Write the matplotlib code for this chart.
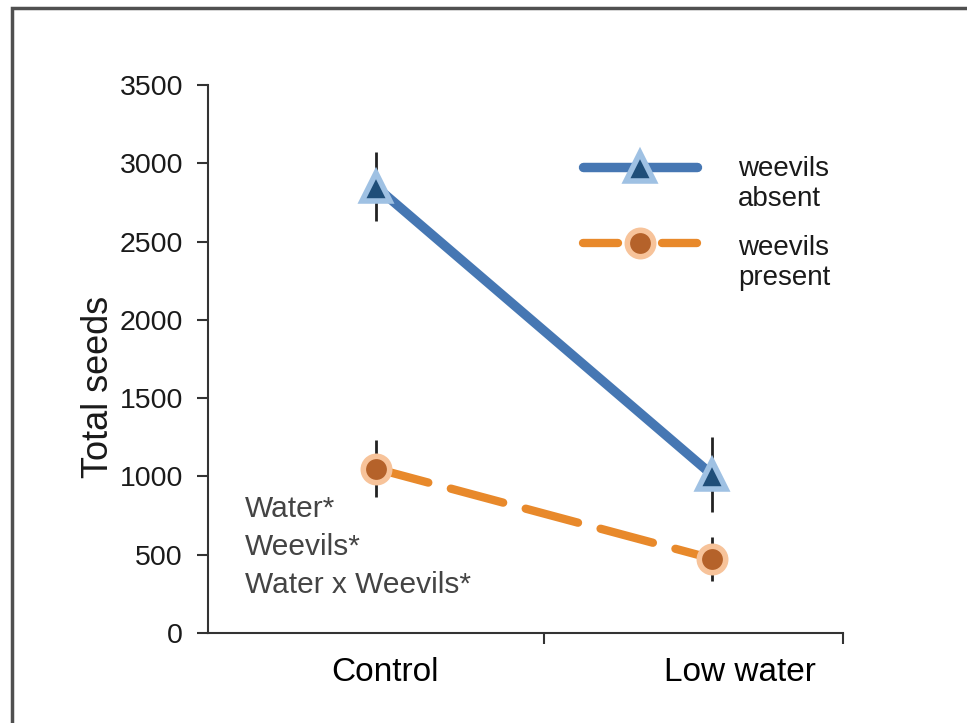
import matplotlib.pyplot as plt
from matplotlib.patches import Rectangle

plt.rcParams['font.family'] = ['Liberation Sans', 'DejaVu Sans']

groups = ['Control', 'Low water']
absent = [2850, 1010]
absent_err = [220, 240]
present = [1050, 475]
present_err = [180, 140]
yticks = [0, 500, 1000, 1500, 2000, 2500, 3000, 3500]
stats_text = 'Water*\nWeevils*\nWater x Weevils*'
legend_labels = ['weevils\nabsent', 'weevils\npresent']

blue = '#4677b3'
orange = '#e8892b'
tri_face, tri_edge = '#1f4e79', '#9fc1e3'
dot_face, dot_edge = '#b5622a', '#f7c39a'

fig = plt.figure(figsize=(9.67, 7.23), dpi=100)
ax = fig.add_axes([0.215, 0.1245, 0.657, 0.758])

x = [0.5, 1.5]

ax.errorbar(x, absent, yerr=absent_err, fmt='none', ecolor='#222222', elinewidth=2, zorder=2)
ax.errorbar(x, present, yerr=present_err, fmt='none', ecolor='#222222', elinewidth=2, zorder=2)

ax.plot(x, absent, color=blue, lw=6.8, solid_capstyle='round', zorder=3)
ax.plot(x, absent, ls='none', marker='^', ms=20, mfc=tri_face, mec=tri_edge, mew=4, zorder=4)

ax.plot(x, present, color=orange, lw=6, ls=(0, (6.5, 2.8)), dash_capstyle='round', zorder=3)
ax.plot(x, present, ls='none', marker='o', ms=19, mfc=dot_face, mec=dot_edge, mew=4, zorder=4)

ax.set_ylim(0, 3500)
ax.set_yticks(yticks)
ax.set_xlim(0, 1.89)
ax.set_xticks([1, 1.89])
ax.set_xticklabels(['', ''])
# category labels sit a little right of the points, as in the original
ax.set_xticks([0.527, 1.583], minor=True)
ax.set_xticklabels(groups, minor=True, fontsize=24)
ax.tick_params(axis='x', which='minor', length=0, pad=17)
ax.tick_params(axis='both', which='major', direction='out', length=8, width=1.5, colors='#333333',
               labelsize=20.5, labelcolor='#1a1a1a')
ax.tick_params(axis='y', pad=10)

for s in ['top', 'right']:
    ax.spines[s].set_visible(False)
for s in ['left', 'bottom']:
    ax.spines[s].set_linewidth(1.5)
    ax.spines[s].set_color('#333333')

ax.set_ylabel('Total seeds', fontsize=26, color='#1a1a1a')
ax.yaxis.set_label_coords(-0.145, 0.449)

ax.text(0.058, 0.252, stats_text, transform=ax.transAxes, fontsize=21.5, color='#444444',
        va='top', ha='left', linespacing=1.45)

# legend keys drawn by hand so the marker lines up with the first text line
kx0, kx1, kxm = 0.5906, 0.770, 0.680
ky1, ky2 = 0.8504, 0.7117
ax.plot([kx0, kx1], [ky1, ky1], transform=ax.transAxes, color=blue, lw=6.8,
        solid_capstyle='round', clip_on=False)
ax.plot([kxm], [ky1], transform=ax.transAxes, marker='^', ms=20, mfc=tri_face, mec=tri_edge,
        mew=4, clip_on=False)
ax.plot([kx0, kx0 + 0.055], [ky2, ky2], transform=ax.transAxes, color=orange, lw=6,
        solid_capstyle='round', clip_on=False)
ax.plot([kx1 - 0.055, kx1], [ky2, ky2], transform=ax.transAxes, color=orange, lw=6,
        solid_capstyle='round', clip_on=False)
ax.plot([kxm], [ky2], transform=ax.transAxes, marker='o', ms=19, mfc=dot_face, mec=dot_edge,
        mew=4, clip_on=False)
ax.text(0.8346, 0.820, legend_labels[0], transform=ax.transAxes, fontsize=20,
        va='center', ha='left', linespacing=1.2, color='#1a1a1a')
ax.text(0.8346, 0.676, legend_labels[1], transform=ax.transAxes, fontsize=20,
        va='center', ha='left', linespacing=1.2, color='#1a1a1a')

fig.patches.append(Rectangle((12 / 967, -0.1), 1.2, 1 - 8 / 723 + 0.1, transform=fig.transFigure,
                             fill=False, edgecolor='#505050', lw=2.5))

fig.savefig('out.png', dpi=100)
